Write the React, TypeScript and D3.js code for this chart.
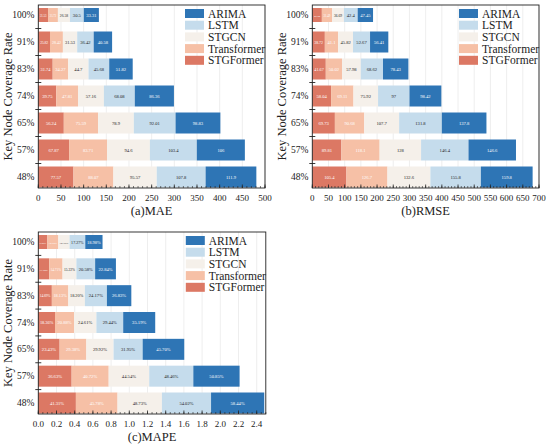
import * as d3 from 'd3';

const CATEGORIES = ['48%', '57%', '65%', '74%', '83%', '91%', '100%'];
const MODELS = ['STGFormer', 'Transformer', 'STGCN', 'LSTM', 'ARIMA'];
const LEGEND_ORDER = ['ARIMA', 'LSTM', 'STGCN', 'Transformer', 'STGFormer'];
const COLORS: Record<string, string> = {
  STGFormer: '#dc7864',
  Transformer: '#f6c0a6',
  STGCN: '#f5f0ea',
  LSTM: '#c5dcec',
  ARIMA: '#2e75b5',
};
const LABEL_FILL: Record<string, string> = {
  STGFormer: '#ffffff',
  Transformer: '#ffffff',
  STGCN: '#222222',
  LSTM: '#222222',
  ARIMA: '#ffffff',
};

// MAE, one array per model, ordered as CATEGORIES
const MAE_STGFORMER = [77.57, 67.87, 56.24, 39.75, 31.74, 25.82, 21.53];
const MAE_TRANSFORMER = [88.07, 83.71, 75.59, 47.81, 34.27, 28.42, 21.72];
const MAE_STGCN = [95.57, 94.6, 78.9, 57.16, 44.7, 31.53, 26.58];
const MAE_LSTM = [107.8, 103.4, 92.01, 68.08, 45.68, 36.42, 30.5];
const MAE_ARIMA = [111.9, 106, 98.83, 86.36, 51.82, 40.58, 33.31];

// RMSE
const RMSE_STGFORMER = [105.4, 89.81, 69.73, 58.04, 41.67, 38.72, 29.52];
const RMSE_TRANSFORMER = [126.7, 118.1, 90.68, 69.11, 50.02, 41.1, 31.49];
const RMSE_STGCN = [132.6, 128, 107.7, 75.92, 57.98, 45.82, 36.69];
const RMSE_LSTM = [155.8, 146.4, 131.8, 97, 68.62, 52.67, 42.4];
const RMSE_ARIMA = [159.8, 146.6, 137.8, 98.42, 78.43, 56.41, 47.45];

// MAPE in percent
const MAPE_STGFORMER = [41.31, 36.63, 23.43, 18.36, 14.89, 11.95, 9.96];
const MAPE_TRANSFORMER = [45.78, 40.72, 29.38, 20.88, 18.13, 14.71, 12.08];
const MAPE_STGCN = [48.73, 44.54, 29.92, 24.61, 18.2, 15.22, 12.3];
const MAPE_LSTM = [54.02, 48.46, 31.95, 29.44, 24.17, 20.58, 17.27];
const MAPE_ARIMA = [58.44, 50.85, 45.7, 35.19, 26.83, 22.84, 18.98];

const MAE_TICKS = [0, 50, 100, 150, 200, 250, 300, 350, 400, 450, 500];
const RMSE_TICKS = [0, 50, 100, 150, 200, 250, 300, 350, 400, 450, 500, 550, 600, 650, 700];
const MAPE_TICKS = [0, 0.2, 0.4, 0.6, 0.8, 1.0, 1.2, 1.4, 1.6, 1.8, 2.0, 2.2, 2.4];

const FONT = 'Liberation Serif, DejaVu Serif, serif';
const LABEL_SIZE = 4.6;

interface PanelProps {
  left: number;
  right: number;
  top: number;
  bottom: number;
  max: number;
  series: number[][];
  ticks: number[];
  minor: number;
  scale: number;
  fmt: (v: number) => string;
  tickFmt: (v: number) => string;
  title: string;
}

function Panel(p: PanelProps) {
  const x = d3.scaleLinear().domain([0, p.max]).range([p.left, p.right]);
  const y = d3.scalePoint<string>().domain(CATEGORIES).range([p.bottom - 11, p.top + 10]);

  const rows = CATEGORIES.map((c, i) => {
    const r: Record<string, number | string> = { cat: c };
    MODELS.forEach((m, k) => (r[m] = p.series[k][i] * p.scale));
    return r;
  });
  const stacked = d3.stack<Record<string, number | string>>().keys(MODELS)(rows as any);

  const minorTicks = d3.range(0, p.max + 1e-9, p.minor);
  const cy = CATEGORIES.map((c) => y(c)!);
  const mids = cy.slice(1).map((v, i) => (v + cy[i]) / 2);
  const midY = (p.top + p.bottom) / 2;

  return (
    <g fontFamily={FONT}>
      {p.ticks.map((t) => (
        <line key={'g' + t} x1={x(t)} x2={x(t)} y1={p.top} y2={p.bottom} stroke="#e2e2e2" strokeWidth={0.6} />
      ))}

      {stacked.map((layer, k) => {
        const model = MODELS[k];
        return (
          <g key={model}>
            {layer.map((d, i) => {
              const cat = CATEGORIES[i];
              const h = cat === '100%' ? 14 : 21;
              const x0 = x(d[0]);
              const x1 = x(d[1]);
              const label = p.fmt(p.series[k][i]);
              // shrink labels that would spill out of a narrow segment
              const size = Math.min(LABEL_SIZE, (x1 - x0 - 1) / (label.length * 0.6));
              return (
                <g key={cat}>
                  <rect x={x0} y={y(cat)! - h / 2} width={x1 - x0} height={h} fill={COLORS[model]} />
                  <text
                    x={(x0 + x1) / 2}
                    y={y(cat)! + 1.7}
                    textAnchor="middle"
                    fontSize={size}
                    fill={LABEL_FILL[model]}
                  >
                    {label}
                  </text>
                </g>
              );
            })}
          </g>
        );
      })}

      {/* frame */}
      <rect x={p.left} y={p.top} width={p.right - p.left} height={p.bottom - p.top} fill="none" stroke="#222" strokeWidth={0.9} />

      {/* x ticks */}
      {minorTicks.map((t) => (
        <line key={'m' + t} x1={x(t)} x2={x(t)} y1={p.bottom} y2={p.bottom - 2} stroke="#222" strokeWidth={0.6} />
      ))}
      {p.ticks.map((t) => (
        <g key={'t' + t}>
          <line x1={x(t)} x2={x(t)} y1={p.bottom} y2={p.bottom - 3.5} stroke="#222" strokeWidth={0.8} />
          <text x={x(t)} y={p.bottom + 12.5} textAnchor="middle" fontSize={9} fill="#222">
            {p.tickFmt(t)}
          </text>
        </g>
      ))}

      {/* y ticks and labels */}
      {mids.map((m, i) => (
        <line key={'y' + i} x1={p.left - 3} x2={p.left + 3} y1={m} y2={m} stroke="#222" strokeWidth={0.9} />
      ))}
      {CATEGORIES.map((c) => (
        <text key={'c' + c} x={p.left - 4} y={y(c)! + 3} textAnchor="end" fontSize={9.5} fill="#222">
          {c}
        </text>
      ))}
      <text
        transform={`translate(${p.left - 26},${midY}) rotate(-90)`}
        textAnchor="middle"
        fontSize={12.5}
        fill="#222"
      >
        Key Node Coverage Rate
      </text>

      {/* legend */}
      {LEGEND_ORDER.map((m, i) => {
        const ly = p.top + 8.5 + i * 11.7;
        return (
          <g key={'l' + m}>
            <rect x={p.right - 80} y={ly - 4.5} width={19} height={9} fill={COLORS[m]} />
            <text x={p.right - 57} y={ly + 4} fontSize={11.5} fill="#222">
              {m}
            </text>
          </g>
        );
      })}

      <text x={(p.left + p.right) / 2} y={p.bottom + 27} textAnchor="middle" fontSize={12.5} fill="#222">
        {p.title}
      </text>
    </g>
  );
}

export default function App() {
  return (
    <svg width={550} height={448} style={{ position: 'absolute', left: 0, top: 0, background: '#fff' }}>
      <Panel
        left={38.3}
        right={265}
        top={5}
        bottom={188}
        max={500}
        series={[MAE_STGFORMER, MAE_TRANSFORMER, MAE_STGCN, MAE_LSTM, MAE_ARIMA]}
        ticks={MAE_TICKS}
        minor={10}
        scale={1}
        fmt={(v) => String(v)}
        tickFmt={(v) => String(v)}
        title="(a)MAE"
      />
      <Panel
        left={312.3}
        right={539}
        top={5}
        bottom={188}
        max={700}
        series={[RMSE_STGFORMER, RMSE_TRANSFORMER, RMSE_STGCN, RMSE_LSTM, RMSE_ARIMA]}
        ticks={RMSE_TICKS}
        minor={10}
        scale={1}
        fmt={(v) => String(v)}
        tickFmt={(v) => String(v)}
        title="(b)RMSE"
      />
      <Panel
        left={38.3}
        right={265.8}
        top={232}
        bottom={414}
        max={2.5}
        series={[MAPE_STGFORMER, MAPE_TRANSFORMER, MAPE_STGCN, MAPE_LSTM, MAPE_ARIMA]}
        ticks={MAPE_TICKS}
        minor={0.05}
        scale={0.01}
        fmt={(v) => v.toFixed(2) + '%'}
        tickFmt={(v) => v.toFixed(1)}
        title="(c)MAPE"
      />
    </svg>
  );
}
